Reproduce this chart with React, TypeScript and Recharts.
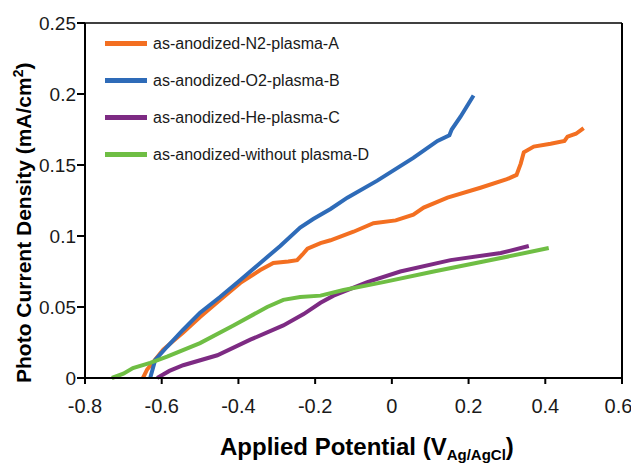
import React from 'react';
import { Label, Legend, Line, LineChart, ReferenceLine, XAxis, YAxis } from 'recharts';

const n2X = [-0.649, -0.638, -0.596, -0.544, -0.5, -0.448, -0.395, -0.343, -0.309, -0.27, -0.247, -0.233, -0.22, -0.186, -0.16, -0.1, -0.048, 0.01, 0.056, 0.083, 0.145, 0.231, 0.3, 0.325, 0.336, 0.344, 0.37, 0.414, 0.45, 0.458, 0.48, 0.5];
const n2Y = [0, 0.006, 0.02, 0.032, 0.043, 0.055, 0.067, 0.076, 0.081, 0.082, 0.083, 0.087, 0.091, 0.095, 0.097, 0.103, 0.109, 0.111, 0.115, 0.12, 0.127, 0.134, 0.14, 0.143, 0.151, 0.159, 0.163, 0.165, 0.167, 0.17, 0.172, 0.176];

const o2X = [-0.63, -0.617, -0.586, -0.544, -0.5, -0.448, -0.395, -0.343, -0.291, -0.239, -0.205, -0.16, -0.116, -0.038, 0.056, 0.119, 0.15, 0.156, 0.179, 0.213];
const o2Y = [0, 0.0127, 0.022, 0.034, 0.046, 0.057, 0.069, 0.081, 0.093, 0.106, 0.112, 0.119, 0.127, 0.139, 0.155, 0.167, 0.171, 0.175, 0.184, 0.199];

const heX = [-0.612, -0.58, -0.544, -0.455, -0.369, -0.283, -0.23, -0.186, -0.152, -0.064, 0.022, 0.153, 0.284, 0.357];
const heY = [0, 0.005, 0.009, 0.016, 0.027, 0.037, 0.045, 0.053, 0.058, 0.0675, 0.075, 0.083, 0.088, 0.093];

const noneX = [-0.73, -0.7, -0.675, -0.63, -0.586, -0.5, -0.413, -0.325, -0.283, -0.239, -0.186, -0.126, -0.022, 0.109, 0.239, 0.409];
const noneY = [0, 0.003, 0.007, 0.0106, 0.015, 0.0246, 0.037, 0.05, 0.055, 0.057, 0.058, 0.062, 0.0675, 0.075, 0.082, 0.0915];

const seriesNames = ['as-anodized-N2-plasma-A', 'as-anodized-O2-plasma-B', 'as-anodized-He-plasma-C', 'as-anodized-without plasma-D'];
const seriesColors = ['#F36F21', '#2E6BB8', '#7D2B83', '#6FBE44'];

const xTicks = [-0.8, -0.6, -0.4, -0.2, 0, 0.2, 0.4, 0.6];
const yTicks = [0, 0.05, 0.1, 0.15, 0.2, 0.25];

const toPoints = (xs: number[], ys: number[]) => xs.map((x, i) => ({ x, y: ys[i] }));

const series = [
  toPoints(n2X, n2Y),
  toPoints(o2X, o2Y),
  toPoints(heX, heY),
  toPoints(noneX, noneY),
];

const FONT = '"Liberation Sans", Arial, sans-serif';

const YTick = ({ x, y, payload }: any) => (
  <text x={x} y={y} dy="0.35em" textAnchor="end" fill="#1a1a1a" fontSize={19} fontFamily={FONT}>
    {payload.value}
  </text>
);

// legend keeps the series order (recharts would sort it by name)
const LegendBox = () => (
  <div style={{ fontFamily: FONT, fontSize: 16, color: '#1a1a1a' }}>
    {seriesNames.map((name, i) => (
      <div key={name} style={{ display: 'flex', alignItems: 'center', height: 37 }}>
        <span style={{ display: 'inline-block', width: 42, height: 5, background: seriesColors[i], marginRight: 6 }} />
        <span>{name}</span>
      </div>
    ))}
  </div>
);

const App = () => {
  return (
    <div style={{ position: 'absolute', left: 0, top: 0 }}>
      <LineChart width={631} height={464} margin={{ top: 23, right: 9, left: 0, bottom: 0 }}>
        <XAxis
          type="number"
          dataKey="x"
          domain={[-0.8, 0.6]}
          ticks={xTicks}
          allowDuplicatedCategory={false}
          height={86}
          stroke="#000"
          strokeWidth={2}
          tickSize={6}
          tickMargin={15}
          tick={{ fill: '#1a1a1a', fontSize: 20, fontFamily: FONT }}
        >
          <Label
            content={() => (
              <text x={220} y={455} fontFamily={FONT} fontWeight="bold" fontSize={24} fill="#000">
                Applied Potential (V
                <tspan fontSize={15} dy={5}>Ag/AgCl</tspan>
                <tspan dy={-5}>)</tspan>
              </text>
            )}
          />
        </XAxis>
        <YAxis
          type="number"
          dataKey="y"
          domain={[0, 0.25]}
          ticks={yTicks}
          width={85}
          stroke="#000"
          strokeWidth={2}
          tickSize={8}
          tickMargin={1}
          tick={<YTick />}
        >
          <Label
            content={() => (
              <text
                x={0}
                y={0}
                transform="translate(31, 383) rotate(-90)"
                fontFamily={FONT}
                fontWeight="bold"
                fontSize={21}
                fill="#000"
              >
                Photo Current Density (mA/cm
                <tspan fontSize={14} dy={-8}>2</tspan>
                <tspan dy={8}>)</tspan>
              </text>
            )}
          />
        </YAxis>
        <ReferenceLine y={0.25} stroke="#000" strokeWidth={1.5} />
        <ReferenceLine x={0.6} stroke="#000" strokeWidth={2} />
        <Legend
          layout="vertical"
          align="center"
          verticalAlign="middle"
          wrapperStyle={{ top: 25, left: 105, width: 'auto' }}
          content={<LegendBox />}
        />
        {series.map((d, i) => (
          <Line
            key={seriesNames[i]}
            data={d}
            dataKey="y"
            name={seriesNames[i]}
            type="linear"
            stroke={seriesColors[i]}
            strokeWidth={4}
            dot={false}
            isAnimationActive={false}
          />
        ))}
      </LineChart>
    </div>
  );
};

export default App;
